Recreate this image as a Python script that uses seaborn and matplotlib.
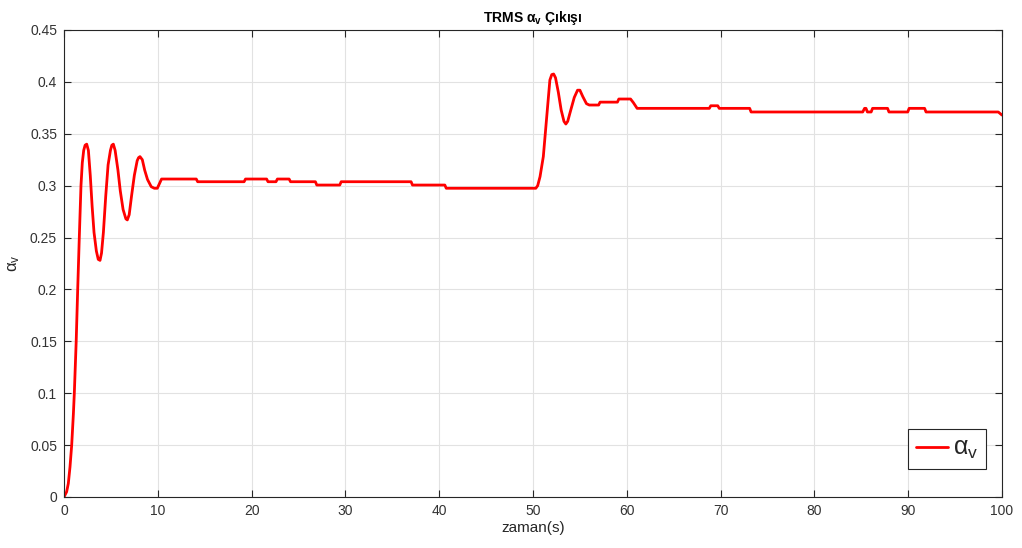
import matplotlib
matplotlib.use("Agg")
import matplotlib.pyplot as plt
import seaborn as sns
import pandas as pd

# time (s) and alpha_v values
time_s = [0, 0.28, 0.46, 0.64, 0.82, 1.0, 1.1, 1.3, 1.46, 1.63, 1.81, 1.95, 2.1, 2.25, 2.42,
          2.6, 2.8, 3.0, 3.2, 3.45, 3.65, 3.84, 4.0, 4.2, 4.45, 4.7, 4.95, 5.1, 5.26,
          5.45, 5.75, 6.0, 6.3, 6.6, 6.75, 6.95, 7.2, 7.5, 7.8, 7.95, 8.1,
          8.35, 8.6, 8.9, 9.3, 9.63, 9.95, 10.4,
          14.1, 14.25, 19.2, 19.35, 21.6, 21.75, 22.6, 22.75, 24.0, 24.15,
          26.8, 26.95, 29.4, 29.55, 37.0, 37.15, 40.6, 40.75, 50.3,
          50.5, 50.75, 51.1, 51.46, 51.8, 52.0, 52.2, 52.4, 52.7, 53.0, 53.3, 53.5,
          53.7, 54.0, 54.4, 54.75, 55.0, 55.3, 55.7, 56.0, 57.0, 57.15, 59.0, 59.15,
          60.4, 60.7, 61.1, 68.8, 68.95, 69.7, 69.85, 73.1, 73.25, 85.15, 85.35,
          85.5, 85.65, 86.05, 86.2, 87.8, 87.95, 89.95, 90.1, 91.75, 91.9, 99.6, 100]
alpha_v = [0, 0.005, 0.013, 0.029, 0.05, 0.08, 0.10, 0.15, 0.20, 0.25, 0.30, 0.322, 0.334, 0.339, 0.340,
           0.334, 0.31, 0.28, 0.255, 0.237, 0.229, 0.228, 0.235, 0.255, 0.29, 0.32, 0.334, 0.339, 0.340,
           0.334, 0.315, 0.295, 0.277, 0.268, 0.267, 0.272, 0.29, 0.31, 0.324, 0.327, 0.328,
           0.325, 0.315, 0.306, 0.299, 0.2975, 0.2975, 0.3064,
           0.3064, 0.3038, 0.3038, 0.3064, 0.3064, 0.3038, 0.3038, 0.3064, 0.3064, 0.3038,
           0.3038, 0.3006, 0.3006, 0.3038, 0.3038, 0.3006, 0.3006, 0.2975, 0.2975,
           0.300, 0.3087, 0.328, 0.366, 0.4018, 0.407, 0.4076, 0.404, 0.39, 0.373, 0.362, 0.3594,
           0.362, 0.372, 0.385, 0.392, 0.392, 0.386, 0.379, 0.3777, 0.3777, 0.3805, 0.3805, 0.3835,
           0.3835, 0.380, 0.3745, 0.3745, 0.377, 0.377, 0.3745, 0.3745, 0.371, 0.371, 0.3745,
           0.3745, 0.371, 0.371, 0.3745, 0.3745, 0.371, 0.371, 0.3745, 0.3745, 0.371, 0.371, 0.368]

x_ticks = [0, 10, 20, 30, 40, 50, 60, 70, 80, 90, 100]
y_ticks = [0, 0.05, 0.1, 0.15, 0.2, 0.25, 0.3, 0.35, 0.4, 0.45]
y_tick_labels = ["0", "0.05", "0.1", "0.15", "0.2", "0.25", "0.3", "0.35", "0.4", "0.45"]

sns.set_style("white")
plt.rcParams['font.family'] = ['Liberation Sans', 'DejaVu Sans']
plt.rcParams['mathtext.default'] = 'regular'

df = pd.DataFrame({"t": time_s, "a": alpha_v})

fig = plt.figure(figsize=(10.22, 5.48), dpi=100)
ax = fig.add_axes([64 / 1022, 1 - 497 / 548, (1002 - 64) / 1022, (497 - 30) / 548])

axc = "#262626"
sns.lineplot(data=df, x="t", y="a", ax=ax, color="#ff0000", linewidth=2.0,
             label=r"$\alpha_v$", estimator=None, sort=False)

ax.set_xlim(0, 100)
ax.set_ylim(0, 0.45)
ax.set_xticks(x_ticks)
ax.set_yticks(y_ticks)
ax.set_yticklabels(y_tick_labels)
ax.grid(True, color="#e2e2e2", linewidth=0.8)
ax.set_axisbelow(True)
for s in ax.spines.values():
    s.set_visible(True)
    s.set_color(axc)
    s.set_linewidth(0.8)
ax.tick_params(direction="in", length=5, width=0.8, color=axc, labelcolor="#333333",
               labelsize=10, top=True, right=True, left=True, bottom=True, pad=5)

ax.set_xlabel("zaman(s)", fontsize=11, color=axc, labelpad=2)
ax.set_ylabel(r"$\alpha_v$", fontsize=12, color=axc, labelpad=6)
ax.set_title(r"TRMS $\alpha_v$ Çıkışı", fontsize=10, fontweight="bold", color="black", pad=6)

leg = ax.legend(loc="lower right", bbox_to_anchor=(0.983, 0.06), fontsize=18,
                fancybox=False, framealpha=1, edgecolor=axc, handlelength=1.3,
                handletextpad=0.2, borderpad=0.3, borderaxespad=0)
leg.get_frame().set_linewidth(0.8)

fig.savefig("out.png", dpi=100)
